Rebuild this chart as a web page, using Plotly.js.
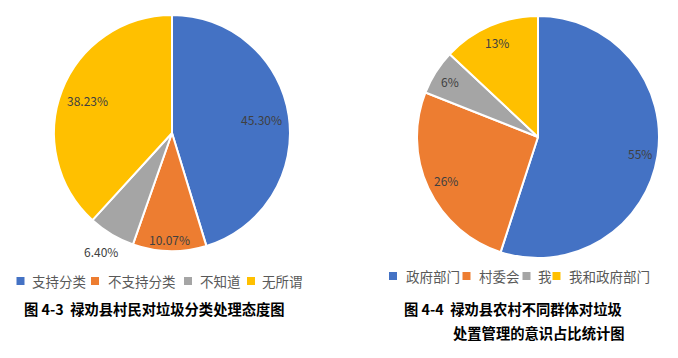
<!DOCTYPE html>
<html><head><meta charset="utf-8">
<script src="https://cdn.plot.ly/plotly-3.0.1.min.js"></script>
<style>html,body{margin:0;padding:0;background:#fff}#c{width:678px;height:358px}</style>
</head><body><div id="c"></div>
<script>
// Data
const leftLabels = ['支持分类', '不支持分类', '不知道', '无所谓'];
const leftValues = [45.30, 10.07, 6.40, 38.23];
const leftText = ['45.30%', '10.07%', '6.40%', '38.23%'];
const rightLabels = ['政府部门', '村委会', '我', '我和政府部门'];
const rightValues = [55, 26, 6, 13];
const rightText = ['55%', '26%', '6%', '13%'];
const colors = ['#4472C4', '#ED7D31', '#A5A5A5', '#FFC000'];
const leftCaption = '图 4-3  禄劝县村民对垃圾分类处理态度图';
const rightCaption1 = '图 4-4  禄劝县农村不同群体对垃圾';
const rightCaption2 = '处置管理的意识占比统计图';

const W = 678, H = 358;
const FONT = '"Noto Sans CJK SC", "Noto Sans", sans-serif';
// pie geometry in pixels
const L = {cx: 172, cy: 133, r: 118, f: [0.77, 0.9, 1.17, 0.77]};
const R = {cx: 538, cy: 137, r: 121, f: [0.85, 0.84, 0.86, 0.85]};
// legend layout in pixels
const LL = {y: 281, mx: [20.5, 95, 188, 251], tx: [30, 106, 198, 260]};
const RL = {y: 276, mx: [393, 466.5, 526.5, 556.5], tx: [404, 477, 536, 567]};

function px(x) { return x / W; }
function py(y) { return 1 - y / H; }
function dom(g) {
  return {x: [px(g.cx - g.r), px(g.cx + g.r)], y: [py(g.cy + g.r), py(g.cy - g.r)]};
}
function labelAnns(vals, texts, g) {
  const tot = vals.reduce((a, b) => a + b, 0);
  let cum = 0;
  return vals.map((v, i) => {
    const a = 2 * Math.PI * (cum + v / 2) / tot;
    cum += v;
    const x = g.cx + g.f[i] * g.r * Math.sin(a);
    const y = g.cy - g.f[i] * g.r * Math.cos(a);
    return {x: px(x), y: py(y), xref: 'paper', yref: 'paper', text: texts[i], showarrow: false,
      font: {family: FONT, size: 12, color: '#404040'}, xanchor: 'center', yanchor: 'middle'};
  });
}
const legFont = {family: FONT, size: 13.5, color: '#595959'};
function legendItems(labels, lg) {
  const anns = [], shapes = [];
  labels.forEach((lab, i) => {
    shapes.push({type: 'rect', xref: 'paper', yref: 'paper', x0: px(lg.mx[i] - 4), x1: px(lg.mx[i] + 4),
      y0: py(lg.y + 4), y1: py(lg.y - 4), fillcolor: colors[i], line: {width: 0}});
    anns.push({x: px(lg.tx[i]), y: py(lg.y), xref: 'paper', yref: 'paper', xanchor: 'left', yanchor: 'middle',
      showarrow: false, text: lab, font: legFont});
  });
  return {anns, shapes};
}

const traces = [
  {type: 'pie', labels: leftLabels, values: leftValues, sort: false, direction: 'clockwise', rotation: 0,
   marker: {colors: colors, line: {color: '#ffffff', width: 2}}, textinfo: 'none', hoverinfo: 'label+percent',
   domain: dom(L), showlegend: false},
  {type: 'pie', labels: rightLabels, values: rightValues, sort: false, direction: 'clockwise', rotation: 0,
   marker: {colors: colors, line: {color: '#ffffff', width: 2}}, textinfo: 'none', hoverinfo: 'label+percent',
   domain: dom(R), showlegend: false}
];

const capFont = {family: FONT, size: 14.3, color: '#000000', weight: 'bold'};
const lg1 = legendItems(leftLabels, LL), lg2 = legendItems(rightLabels, RL);
const anns = labelAnns(leftValues, leftText, L).concat(labelAnns(rightValues, rightText, R))
  .concat(lg1.anns, lg2.anns).concat([
  {x: px(22), y: py(308), xref: 'paper', yref: 'paper', xanchor: 'left', yanchor: 'middle', showarrow: false, text: leftCaption, font: capFont},
  {x: px(402), y: py(308), xref: 'paper', yref: 'paper', xanchor: 'left', yanchor: 'middle', showarrow: false, text: rightCaption1, font: capFont},
  {x: px(451), y: py(332), xref: 'paper', yref: 'paper', xanchor: 'left', yanchor: 'middle', showarrow: false, text: rightCaption2, font: capFont}
]);

const layout = {
  width: W, height: H, margin: {l: 0, r: 0, t: 0, b: 0, pad: 0, autoexpand: false},
  paper_bgcolor: '#ffffff', plot_bgcolor: '#ffffff',
  font: {family: FONT},
  showlegend: false,
  annotations: anns,
  shapes: lg1.shapes.concat(lg2.shapes)
};
Plotly.newPlot('c', traces, layout, {displayModeBar: false, staticPlot: true});
</script></body></html>
